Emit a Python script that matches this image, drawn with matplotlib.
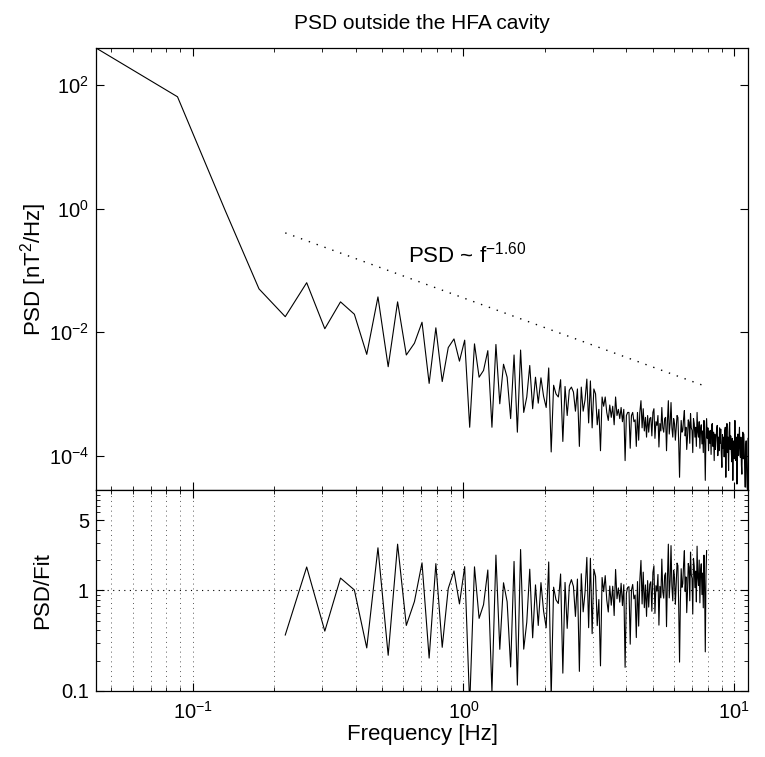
import numpy as np
import matplotlib
matplotlib.use("Agg")
import matplotlib.pyplot as plt
from matplotlib.ticker import LogLocator, FixedLocator, FixedFormatter, NullFormatter, NullLocator

plt.rcParams['font.family'] = ['Liberation Sans', 'DejaVu Sans']
plt.rcParams['mathtext.default'] = 'regular'

# spectrum: fs = 22.5 Hz, 512-point fft -> df = fs/512
fs = 22.5
nfft = 512

# log10 of PSD [nT^2/Hz] for bins k = 1 .. 256
log_psd = [
    2.60, 1.81, -0.03, -1.30, -1.75, -1.20, -1.945, -1.51, -1.71, -2.36,
    -1.43, -2.56, -1.51, -2.37, -2.18, -1.84, -2.83, -1.93, -2.80, -2.25,
    -2.11, -2.47, -2.13, -3.54, -2.19, -2.73, -2.62, -2.30, -3.54, -2.20,
    -3.16, -2.52, -2.73, -3.40, -2.37, -3.62, -2.29, -3.30, -3.05, -2.54,
    -3.24, -2.73, -3.15, -2.74, -3.04, -3.22, -2.58, -3.94, -2.86, -3.00,
    -3.05, -2.77, -3.77, -2.88, -3.35, -2.94, -2.89, -2.97, -3.28, -2.92,
    -3.85, -2.89, -3.28, -3.10, -2.76, -3.47, -2.79, -3.55, -2.92, -3.00,
    -3.50, -3.25, -3.92, -3.05, -3.20, -3.05, -3.30, -3.43, -3.18, -3.38,
    -3.20, -3.50, -3.05, -3.35, -3.25, -3.40, -3.22, -3.45, -3.25, -4.08,
    -3.35, -3.30, -3.30, -3.88, -3.35, -3.30, -3.45, -3.42, -3.85, -3.30,
    -3.75, -3.30, -3.11, -3.55, -3.24, -3.60, -3.38, -3.70, -3.35, -3.62,
    -3.40, -3.38, -3.68, -3.30, -3.24, -3.72, -3.45, -3.51, -3.35, -3.86,
    -3.48, -3.60, -3.22, -3.55, -3.62, -3.40, -3.38, -3.92, -3.45, -3.11,
    -3.65, -3.48, -3.14, -3.55, -3.70, -3.40, -3.48, -3.75, -3.54, -3.35,
    -3.38, -3.80, -4.35, -3.76, -3.43, -3.62, -3.59, -3.40, -3.27, -3.68,
    -3.54, -3.90, -3.70, -3.42, -3.46, -3.80, -3.32, -3.55, -3.59, -3.95,
    -3.40, -3.48, -3.70, -3.54, -3.85, -3.30, -3.62, -3.70, -3.45, -3.88,
    -3.57, -3.50, -3.81, -3.60, -3.95, -3.43, -3.75, -4.40, -3.65, -3.40,
    -3.72, -3.55, -3.92, -3.60, -3.80, -3.59, -3.98, -3.50, -3.48, -3.85,
    -3.62, -4.08, -3.65, -3.90, -3.76, -3.58, -3.51, -4.00, -3.70, -3.92,
    -3.55, -3.80, -3.57, -3.95, -4.19, -3.66, -3.88, -3.70, -4.02, -3.60,
    -3.54, -4.35, -3.75, -3.48, -3.95, -3.70, -4.24, -3.62, -3.46, -3.90,
    -3.68, -3.92, -4.10, -3.72, -4.40, -3.85, -3.76, -4.05, -3.43, -3.95,
    -4.08, -3.70, -4.46, -3.82, -3.65, -4.00, -3.78, -3.54, -3.98, -4.03,
    -3.70, -4.15, -4.30, -3.80, -3.62, -4.05, -3.65, -3.90, -4.20, -4.51,
    -3.85, -3.76, -4.25, -4.51, -4.556, -3.72,
]

# power-law fit PSD = A f^slope over bins k_fit[0]..k_fit[1]
slope = -1.60
log_amp = -2.36
k_fit = (5, 180)
line_shift = 8.2   # fit line drawn shifted up for display

df = fs / nfft
freq = df * np.arange(1, len(log_psd) + 1)
psd = 10.0 ** np.array(log_psd)

sel = slice(k_fit[0] - 1, k_fit[1])
f_fit = freq[sel]
fit = 10.0 ** log_amp * f_fit ** slope
ratio = psd[sel] / fit

fig = plt.figure(figsize=(7.65, 7.57), dpi=100)
ax1 = fig.add_axes([0.1255, 0.3527, 0.8523, 0.5839])
ax2 = fig.add_axes([0.1255, 0.0872, 0.8523, 0.2655])

# top panel
ax1.loglog(freq, psd, 'k-', lw=0.8)
ax1.loglog(f_fit, fit * line_shift, color='k', lw=1.0, linestyle=(0, (1, 5)))
ax1.set_xlim(freq[0], freq[-1])
ax1.set_ylim(psd.min(), psd.max())
ax1.text(0.623, 10 ** -0.87, 'PSD ~ f$^{%.2f}$' % slope, fontsize=16)
ax1.set_ylabel('PSD [nT$^2$/Hz]', fontsize=16, labelpad=0)
ax1.set_title('PSD outside the HFA cavity', fontsize=15, pad=14)
ax1.yaxis.set_major_locator(FixedLocator([1e-4, 1e-2, 1e0, 1e2]))
ax1.yaxis.set_minor_locator(NullLocator())
ax1.xaxis.set_major_locator(LogLocator(base=10))
ax1.xaxis.set_minor_locator(LogLocator(base=10, subs=np.arange(2, 10)))
ax1.xaxis.set_major_formatter(NullFormatter())
ax1.xaxis.set_minor_formatter(NullFormatter())

# bottom panel
ax2.loglog(f_fit, ratio, 'k-', lw=0.8)
ax2.axhline(1, color='k', lw=0.8, linestyle=(0, (1, 4)))
ax2.set_xlim(freq[0], freq[-1])
ax2.set_ylim(0.1, 10)
ax2.xaxis.set_major_locator(LogLocator(base=10))
ax2.xaxis.set_minor_locator(LogLocator(base=10, subs=np.arange(2, 10)))
ax2.xaxis.set_minor_formatter(NullFormatter())
ax2.yaxis.set_major_locator(FixedLocator([0.1, 1, 5]))
ax2.yaxis.set_major_formatter(FixedFormatter(['0.1', '1', '5']))
ax2.yaxis.set_minor_locator(LogLocator(base=10, subs=np.arange(2, 10)))
ax2.yaxis.set_minor_formatter(NullFormatter())
ax2.grid(True, which='both', axis='x', color='0.35', lw=0.7, linestyle=(0, (1, 4)))
ax2.set_xlabel('Frequency [Hz]', fontsize=16, labelpad=1)
ax2.set_ylabel('PSD/Fit', fontsize=16, labelpad=6)

for ax in (ax1, ax2):
    ax.tick_params(which='both', direction='in', top=True, right=True, labelsize=14.5)
    ax.tick_params(which='major', length=6, width=0.8)
    ax.tick_params(which='minor', length=3, width=0.6)
    ax.tick_params(axis='x', pad=7)
    ax.tick_params(axis='y', pad=5)
    for s in ax.spines.values():
        s.set_linewidth(0.9)

plt.savefig('out.png', dpi=100)
